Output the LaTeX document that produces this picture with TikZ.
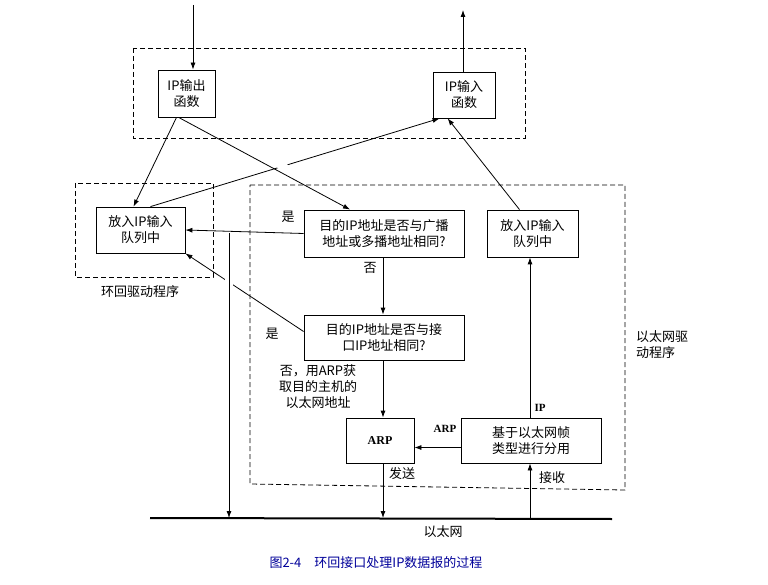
\documentclass[tikz,border=0pt]{standalone}
\usepackage{fontspec}
\setmainfont{Liberation Serif}
\newfontfamily\cjk{Noto Sans CJK SC}
\usetikzlibrary{arrows.meta}
\begin{document}
\begin{tikzpicture}[x=1pt,y=-1pt,font=\cjk\fontsize{13}{16}\selectfont,
  box/.style={draw,thick,rectangle},
  dbox/.style={draw,thick,dash pattern=on 5pt off 3pt},
  arr/.style={-{Latex[length=7pt,width=5pt]},thick},
  lbl/.style={inner sep=1pt}]
\useasboundingbox (0,0) rectangle (768,585);
% dashed regions
\draw[dbox] (133,48) rectangle (525,138);
\draw[dbox] (75,183) rectangle (213,277);
\draw[dbox] (250,185) -- (625,185) -- (625,490) -- (250,484) -- cycle;
\node[lbl] (lloop) at (140,292) {环回驱动程序};
\node[lbl,align=left] (leth) at (662,345) {以太网驱\\动程序};
% boxes
\node[box,minimum width=57pt,minimum height=47pt,align=center] (out) at (186.5,93.5) {IP输出\\函数};
\node[box,minimum width=62pt,minimum height=46pt,align=center] (in) at (464,95) {IP输入\\函数};
\node[box,minimum width=89pt,minimum height=46pt,align=center] (lq) at (140.5,230) {放入IP输入\\队列中};
\node[box,minimum width=160pt,minimum height=47pt,align=center] (bc) at (384,233.5) {目的IP地址是否与广播\\地址或多播地址相同?};
\node[box,minimum width=160pt,minimum height=45pt,align=center] (ifc) at (384,337.5) {目的IP地址是否与接\\口IP地址相同?};
\node[box,minimum width=91pt,minimum height=47pt,align=center] (rq) at (532.5,233.5) {放入IP输入\\队列中};
\node[box,minimum width=68pt,minimum height=45pt,font=\bfseries\fontsize{12}{14}\selectfont] (arp) at (380,440.5) {ARP};
\node[box,minimum width=140pt,minimum height=45pt,align=center] (dmx) at (531,440.5) {基于以太网帧\\类型进行分用};
% ethernet
\coordinate (e1) at (150,518);
\coordinate (e2) at (612,519);
\draw[line width=2pt] (e1) -- (e2);
\node[lbl] (leth2) at (443,532) {以太网};
\coordinate (top1) at (193,5);
\coordinate (top2) at (463,10);
\draw[arr] (top1) -- (out.north -| top1);
\draw[arr] (in.north -| top2) -- (top2);
% connectors
\draw[arr] ([xshift=-10pt]out.south) -- ([xshift=-7pt]lq.north);
\draw[arr] ([xshift=10pt]lq.north) -- ([xshift=7pt]in.south west);
\draw[line width=8pt,white] (262,153) -- (290,171);
\draw[arr] ([xshift=21pt]out.south west) -- ([xshift=-34pt]bc.north);
\draw[arr] (bc.west) -- (lq.east);
\node[lbl] (y1) at (288,217) {是};
\draw[arr] ([xshift=-1pt]bc.south) -- ([xshift=-1pt]ifc.north);
\node[lbl] (n1) at (370,268) {否};
\draw[arr] ([yshift=6pt]ifc.west) -- (lq.south east);
\draw[line width=8pt,white] (229,250) -- (229,290);
\coordinate (v1) at (229,233);
\coordinate (v2) at (229,518);
\draw[arr] (v1) -- (v2);
\node[lbl] (y2) at (272,334) {是};
\draw[arr] ([xshift=-1pt]ifc.south) -- ([xshift=3pt]arp.north);
\node[lbl,align=center] (nl) at (318,387) {否，用ARP获\\取目的主机的\\以太网地址};
\draw[arr] ([xshift=3pt]arp.south) -- ([xshift=3pt]arp.south |- e1);
\node[lbl] (send) at (402,474) {发送};
\coordinate (r1) at (530,518);
\draw[arr] (r1) -- (dmx.south -| r1);
\node[lbl] (recv) at (552,478) {接收};
\draw[arr] ([yshift=-7pt]dmx.west) -- ([yshift=-7pt]arp.east);
\node[lbl,font=\bfseries\fontsize{11}{13}\selectfont] (la) at (445,429) {ARP};
\draw[arr] (dmx.north -| r1) -- (rq.south -| r1);
\node[lbl,font=\bfseries\fontsize{11}{13}\selectfont] (lip) at (540,408) {IP};
\draw[arr] ([xshift=-13pt]rq.north) -- ([xshift=15pt]in.south west);
% caption
\node[lbl,text=blue!60!black] (cap) at (376,563) {图2-4\quad 环回接口处理IP数据报的过程};
\end{tikzpicture}
\end{document}
